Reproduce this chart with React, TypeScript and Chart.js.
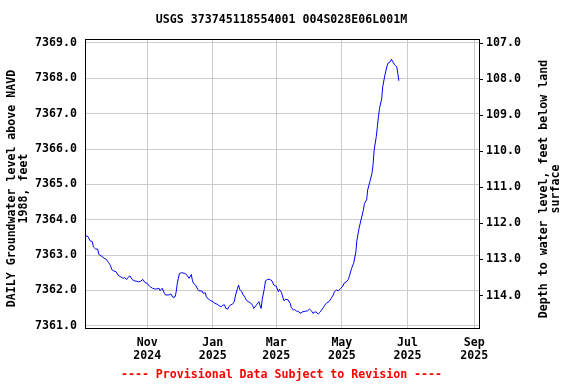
import React, { useEffect, useRef } from "react";
import { Chart, registerables } from "chart.js";

Chart.register(...registerables);

// ---- data -------------------------------------------------------------
const dates: string[] = [
  "2024-09-05", "2024-09-07", "2024-09-09", "2024-09-11", "2024-09-12", "2024-09-14", "2024-09-16", "2024-09-17",
  "2024-09-19", "2024-09-22", "2024-09-24", "2024-09-26", "2024-09-28", "2024-09-29", "2024-10-01", "2024-10-03",
  "2024-10-05", "2024-10-07", "2024-10-10", "2024-10-11", "2024-10-13", "2024-10-14", "2024-10-16", "2024-10-18",
  "2024-10-20", "2024-10-22", "2024-10-24", "2024-10-26", "2024-10-28", "2024-10-30", "2024-11-01", "2024-11-03",
  "2024-11-04", "2024-11-06", "2024-11-08", "2024-11-10", "2024-11-12", "2024-11-13", "2024-11-15", "2024-11-17",
  "2024-11-18", "2024-11-21", "2024-11-23", "2024-11-25", "2024-11-27", "2024-11-28", "2024-11-29", "2024-12-01",
  "2024-12-03", "2024-12-06", "2024-12-08", "2024-12-10", "2024-12-12", "2024-12-13", "2024-12-14", "2024-12-16",
  "2024-12-18", "2024-12-19", "2024-12-22", "2024-12-23", "2024-12-25", "2024-12-26", "2024-12-28", "2024-12-30",
  "2025-01-01", "2025-01-03", "2025-01-05", "2025-01-07", "2025-01-09", "2025-01-10", "2025-01-12", "2025-01-13",
  "2025-01-15", "2025-01-16", "2025-01-18", "2025-01-19", "2025-01-21", "2025-01-22", "2025-01-24", "2025-01-25",
  "2025-01-26", "2025-01-28", "2025-01-29", "2025-01-31", "2025-02-01", "2025-02-03", "2025-02-05", "2025-02-07",
  "2025-02-08", "2025-02-10", "2025-02-11", "2025-02-13", "2025-02-14", "2025-02-15", "2025-02-16", "2025-02-18",
  "2025-02-19", "2025-02-21", "2025-02-23", "2025-02-25", "2025-02-27", "2025-03-01", "2025-03-03", "2025-03-04",
  "2025-03-06", "2025-03-08", "2025-03-10", "2025-03-12", "2025-03-14", "2025-03-15", "2025-03-17", "2025-03-18",
  "2025-03-20", "2025-03-21", "2025-03-24", "2025-03-25", "2025-03-28", "2025-03-30", "2025-04-01", "2025-04-03",
  "2025-04-04", "2025-04-06", "2025-04-07", "2025-04-09", "2025-04-11", "2025-04-12", "2025-04-14", "2025-04-15",
  "2025-04-17", "2025-04-19", "2025-04-21", "2025-04-23", "2025-04-24", "2025-04-26", "2025-04-28", "2025-04-30",
  "2025-05-02", "2025-05-03", "2025-05-05", "2025-05-07", "2025-05-08", "2025-05-10", "2025-05-12", "2025-05-14",
  "2025-05-15", "2025-05-17", "2025-05-19", "2025-05-21", "2025-05-22", "2025-05-24", "2025-05-25", "2025-05-27",
  "2025-05-29", "2025-05-30", "2025-05-31", "2025-06-02", "2025-06-03", "2025-06-04", "2025-06-05", "2025-06-07",
  "2025-06-08", "2025-06-10", "2025-06-12", "2025-06-13", "2025-06-15", "2025-06-16", "2025-06-18", "2025-06-19",
  "2025-06-21", "2025-06-22", "2025-06-23",
];

const levels: number[] = [
  7363.55, 7363.52, 7363.40, 7363.38, 7363.23, 7363.17, 7363.17, 7363.02,
  7362.98, 7362.91, 7362.88, 7362.79, 7362.70, 7362.59, 7362.55, 7362.53,
  7362.43, 7362.39, 7362.34, 7362.36, 7362.31, 7362.36, 7362.41, 7362.31,
  7362.27, 7362.26, 7362.24, 7362.26, 7362.31, 7362.22, 7362.20, 7362.12,
  7362.10, 7362.06, 7362.04, 7362.04, 7362.06, 7361.99, 7362.06, 7361.92,
  7361.87, 7361.87, 7361.90, 7361.80, 7361.82, 7361.96, 7362.20, 7362.48,
  7362.50, 7362.48, 7362.43, 7362.34, 7362.45, 7362.29, 7362.20, 7362.15,
  7362.03, 7361.99, 7361.98, 7361.92, 7361.93, 7361.82, 7361.75, 7361.71,
  7361.68, 7361.63, 7361.61, 7361.56, 7361.54, 7361.58, 7361.59, 7361.49,
  7361.47, 7361.54, 7361.60, 7361.60, 7361.68, 7361.84, 7362.06, 7362.15,
  7362.03, 7361.96, 7361.89, 7361.80, 7361.73, 7361.68, 7361.65, 7361.58,
  7361.49, 7361.56, 7361.61, 7361.68, 7361.56, 7361.49, 7361.75, 7362.06,
  7362.27, 7362.31, 7362.31, 7362.27, 7362.14, 7362.12, 7361.96, 7362.03,
  7361.93, 7361.71, 7361.75, 7361.73, 7361.63, 7361.52, 7361.44, 7361.46,
  7361.41, 7361.41, 7361.35, 7361.39, 7361.41, 7361.42, 7361.47, 7361.41,
  7361.35, 7361.39, 7361.39, 7361.33, 7361.39, 7361.44, 7361.52, 7361.58,
  7361.65, 7361.68, 7361.77, 7361.87, 7361.96, 7362.01, 7361.99, 7362.06,
  7362.12, 7362.20, 7362.24, 7362.31, 7362.40, 7362.62, 7362.77, 7363.09,
  7363.42, 7363.76, 7364.02, 7364.27, 7364.46, 7364.56, 7364.84, 7365.07,
  7365.31, 7365.55, 7365.97, 7366.35, 7366.63, 7366.91, 7367.15, 7367.41,
  7367.76, 7368.09, 7368.35, 7368.43, 7368.47, 7368.54, 7368.44, 7368.38,
  7368.33, 7368.14, 7367.93,
];

const leftTicks: number[] = [7361, 7362, 7363, 7364, 7365, 7366, 7367, 7368, 7369];
const rightTicks: number[] = [107, 108, 109, 110, 111, 112, 113, 114];
const monthTickDates: string[] = ["2024-11-01", "2025-01-01", "2025-03-01", "2025-05-01", "2025-07-01", "2025-09-01"];
const monthTickMonths: string[] = ["Nov", "Jan", "Mar", "May", "Jul", "Sep"];
const monthTickYears: string[] = ["2024", "2025", "2025", "2025", "2025", "2025"];

const TITLE = "USGS 373745118554001 004S028E06L001M";
const LEFT_TITLE: string[] = ["DAILY Groundwater level above NAVD", "1988, feet"];
const RIGHT_TITLE: string[] = ["Depth to water level, feet below land", "surface"];
const FOOTER = "---- Provisional Data Subject to Revision ----";

// ---- helpers ----------------------------------------------------------
const BASE = Date.UTC(2024, 8, 1);
const dayOf = (s: string) => (Date.parse(s) - BASE) / 86400000;

const FAMILY = "'DejaVu Sans Mono', 'Liberation Mono', monospace";
const FONT_SIZE = 11.6;
const CSS_FONT = `bold ${FONT_SIZE}px ${FAMILY}`;

const decorPlugin = {
  id: "decor",
  afterDraw(chart: any) {
    const ctx: CanvasRenderingContext2D = chart.ctx;
    const { left, top, right, bottom } = chart.chartArea;
    ctx.save();
    // frame
    ctx.strokeStyle = "#000000";
    ctx.lineWidth = 1;
    ctx.strokeRect(Math.round(left) + 0.5, Math.round(top) + 0.5, Math.round(right - left), Math.round(bottom - top) - 1);

    ctx.font = CSS_FONT;
    ctx.fillStyle = "#000000";
    ctx.textAlign = "center";
    ctx.textBaseline = "middle";
    ctx.fillText(TITLE, 281.5, 20);

    // left axis title (rotated -90)
    ctx.save();
    ctx.translate(11.5, 188.5);
    ctx.rotate(-Math.PI / 2);
    ctx.fillText(LEFT_TITLE[0], 0, 0);
    ctx.fillText(LEFT_TITLE[1], 0, 12.7);
    ctx.restore();

    // right axis title (rotated -90)
    ctx.save();
    ctx.translate(543.5, 189);
    ctx.rotate(-Math.PI / 2);
    ctx.fillText(RIGHT_TITLE[0], 0, 0);
    ctx.fillText(RIGHT_TITLE[1], 0, 12.7);
    ctx.restore();

    // footer
    ctx.fillStyle = "#ff0000";
    ctx.fillText(FOOTER, 281.5, 375);
    ctx.restore();
  },
};

export default function App() {
  const canvasRef = useRef<HTMLCanvasElement | null>(null);

  useEffect(() => {
    const canvas = canvasRef.current;
    if (!canvas) return;
    const points = dates.map((d, i) => ({ x: dayOf(d), y: levels[i] }));
    const tickFont = { family: FAMILY, size: FONT_SIZE, weight: "bold" as const, lineHeight: 1.08 };

    const chart = new Chart(canvas, {
      type: "line",
      data: {
        datasets: [
          {
            data: points,
            borderColor: "#0000ff",
            borderWidth: 1,
            pointRadius: 0,
            fill: false,
            tension: 0,
            yAxisID: "y",
          },
        ],
      },
      options: {
        responsive: false,
        animation: false,
        devicePixelRatio: 1,
        layout: { padding: { top: 39, left: 0, right: 0, bottom: 0 } },
        plugins: {
          legend: { display: false },
          tooltip: { enabled: false },
          title: { display: false },
        },
        scales: {
          x: {
            type: "linear",
            position: "bottom",
            min: 3.2,
            max: 369.5,
            afterFit: (s: any) => {
              s.height = 55;
            },
            afterBuildTicks: (s: any) => {
              s.ticks = monthTickDates.map((d) => ({ value: dayOf(d) }));
            },
            grid: { color: "#cccccc", lineWidth: 1, drawTicks: false },
            border: { display: false },
            ticks: {
              color: "#000000",
              font: tickFont,
              padding: 8,
              maxRotation: 0,
              autoSkip: false,
              callback: (v: any) => {
                const i = monthTickDates.findIndex((d) => Math.abs(dayOf(d) - Number(v)) < 0.01);
                return i >= 0 ? [monthTickMonths[i], monthTickYears[i]] : "";
              },
            },
          },
          y: {
            type: "linear",
            position: "left",
            min: 7360.907,
            max: 7369.113,
            afterFit: (s: any) => {
              s.width = 85;
            },
            afterBuildTicks: (s: any) => {
              s.ticks = leftTicks.map((v) => ({ value: v }));
            },
            grid: { color: "#cccccc", lineWidth: 1, drawTicks: false },
            border: { display: false },
            ticks: {
              color: "#000000",
              font: tickFont,
              padding: 8,
              callback: (v: any) => Number(v).toFixed(1),
            },
          },
          y2: {
            type: "linear",
            position: "right",
            reverse: true,
            min: 106.889,
            max: 114.927,
            afterFit: (s: any) => {
              s.width = 97;
            },
            afterBuildTicks: (s: any) => {
              s.ticks = rightTicks.map((v) => ({ value: v }));
            },
            grid: { drawOnChartArea: false, drawTicks: true, tickLength: 4, color: "#000000", tickColor: "#000000" },
            border: { display: false },
            ticks: {
              color: "#000000",
              font: tickFont,
              padding: 3,
              callback: (v: any) => Number(v).toFixed(1),
            },
          },
        },
      },
      plugins: [decorPlugin],
    } as any);

    return () => {
      chart.destroy();
    };
  }, []);

  return (
    <div style={{ position: "absolute", left: 0, top: 0, width: 576, height: 384, background: "#ffffff" }}>
      <canvas ref={canvasRef} width={576} height={384} style={{ display: "block", width: 576, height: 384 }} />
    </div>
  );
}
